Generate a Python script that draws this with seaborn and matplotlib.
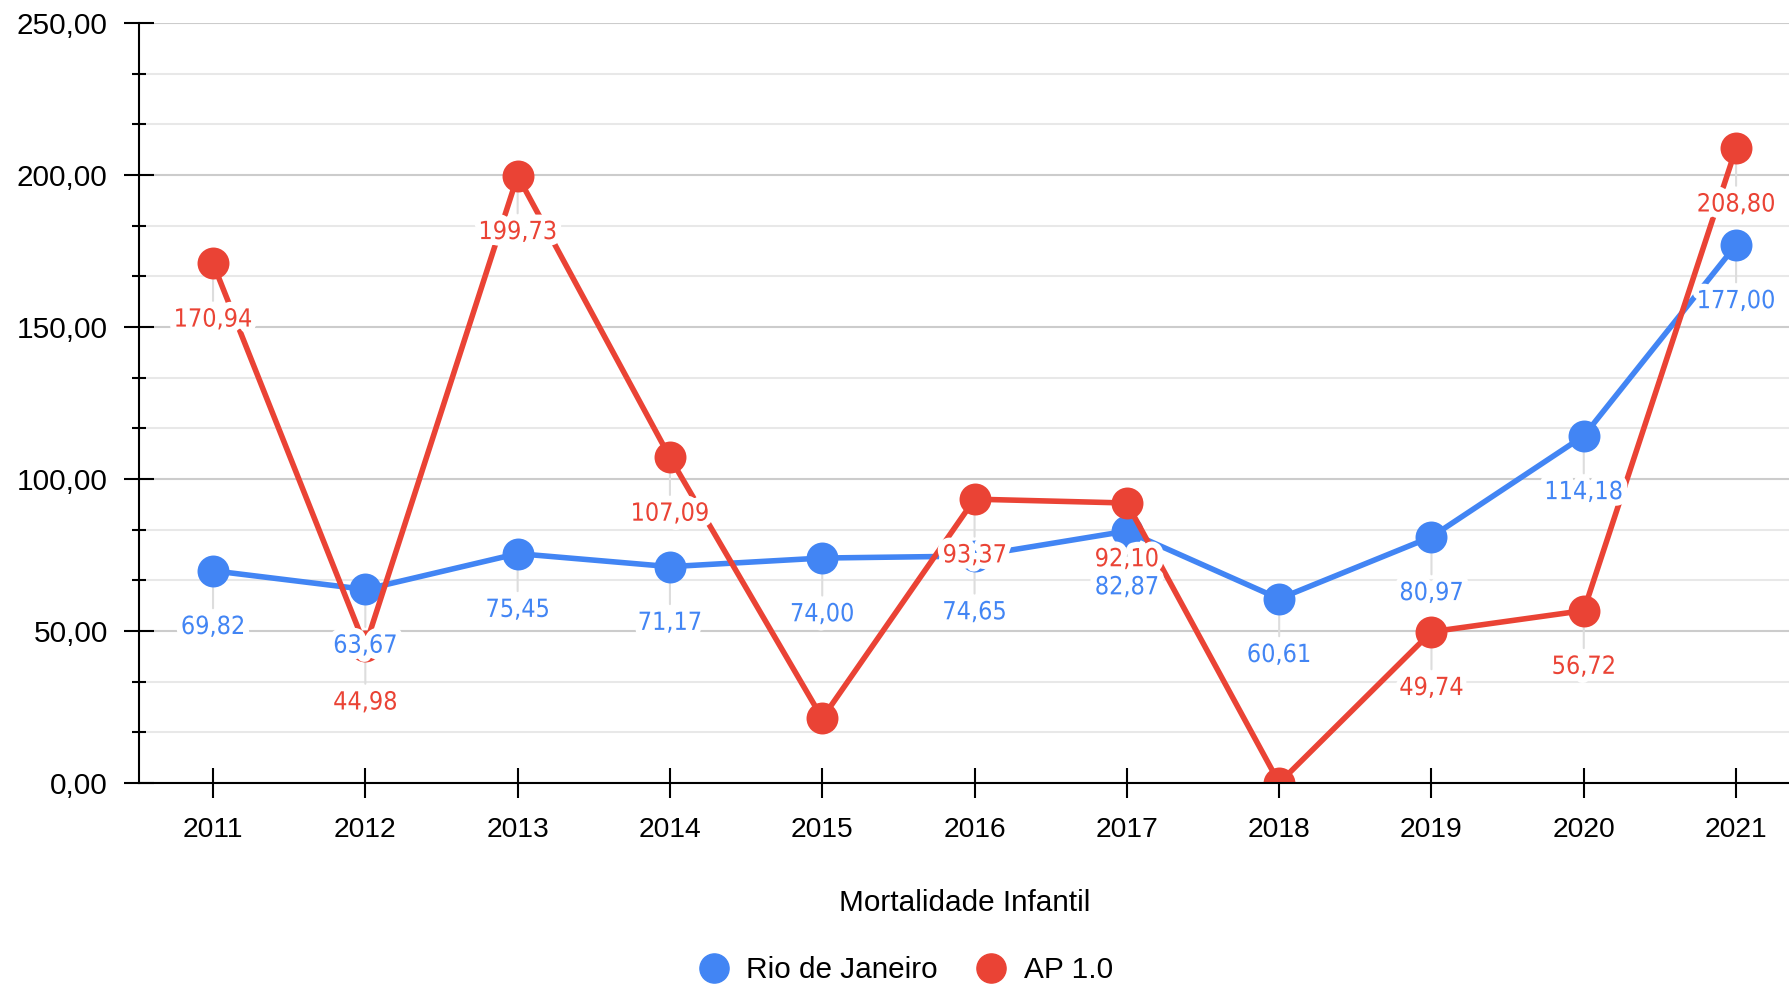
import numpy as np
import pandas as pd
import matplotlib
matplotlib.use("Agg")
import matplotlib.pyplot as plt
import matplotlib.patheffects as pe
from matplotlib.ticker import MultipleLocator, FuncFormatter
from matplotlib.lines import Line2D
import seaborn as sns

years = [2011, 2012, 2013, 2014, 2015, 2016, 2017, 2018, 2019, 2020, 2021]
rio = [69.82, 63.67, 75.45, 71.17, 74.00, 74.65, 82.87, 60.61, 80.97, 114.18, 177.00]
ap10 = [170.94, 44.98, 199.73, 107.09, 21.28, 93.37, 92.10, 0.00, 49.74, 56.72, 208.80]
series_names = ["Rio de Janeiro", "AP 1.0"]
colors = ["#4285F4", "#EA4335"]
x_title = "Mortalidade Infantil"

df = pd.concat([
    pd.DataFrame({"ano": years, "valor": rio, "serie": series_names[0]}),
    pd.DataFrame({"ano": years, "valor": ap10, "serie": series_names[1]}),
], ignore_index=True)

sns.set_style("white")
plt.rcParams["font.family"] = ["Liberation Sans", "DejaVu Sans"]
plt.rcParams["text.color"] = "black"
plt.rcParams["axes.labelcolor"] = "black"
plt.rcParams["xtick.color"] = "black"
plt.rcParams["ytick.color"] = "black"

W, H = 1790, 986
fig = plt.figure(figsize=(W / 100, H / 100), dpi=100)
ax = fig.add_axes([139 / W, 1 - 783 / H, 1 - 139 / W, (783 - 23) / H])

pal = dict(zip(series_names, colors))
sns.lineplot(data=df, x="ano", y="valor", hue="serie", palette=pal,
             hue_order=series_names, marker="o", markersize=23,
             markeredgewidth=0, linewidth=4.0, ax=ax, legend=False, zorder=3)

ax.set_xlim(2010.514, 2021.354)
ax.set_ylim(0, 250)

# grid
ax.yaxis.set_major_locator(MultipleLocator(50))
ax.yaxis.set_minor_locator(MultipleLocator(50 / 3))
ax.set_xticks(years)
ax.set_xticklabels([str(y) for y in years])
ax.grid(False)
ax.set_axisbelow(True)
ax.grid(axis="y", which="major", color="#cccccc", linewidth=1.5, zorder=0)
ax.grid(axis="y", which="minor", color="#e8e8e8", linewidth=1.5, zorder=0)

fmt = FuncFormatter(lambda v, p: f"{v:.2f}".replace(".", ","))
ax.yaxis.set_major_formatter(fmt)

for s in ["top", "right"]:
    ax.spines[s].set_visible(False)
for s in ["left", "bottom"]:
    ax.spines[s].set_color("black")
    ax.spines[s].set_linewidth(1.5)
    ax.spines[s].set_zorder(6)

ax.tick_params(axis="y", which="major", direction="inout", length=21, width=1.5,
               color="black", labelcolor="black", labelsize=21.4, pad=12, left=True)
ax.tick_params(axis="y", which="minor", direction="inout", length=10, width=1.5,
               color="black", left=True)
ax.tick_params(axis="x", which="major", direction="inout", length=21.6, width=1.5,
               color="black", labelcolor="black", labelsize=20.3, pad=14, bottom=True)
ax.set_xlabel(x_title, fontsize=21.4, labelpad=33, color="black")
ax.set_ylabel("")

# annotations (stems + value labels below each point)
for vals, col in zip([rio, ap10], colors):
    for yr, v in zip(years, vals):
        if v < 23.4:
            continue
        ax.annotate("", xy=(yr, v), xytext=(0, -27), textcoords="offset points",
                    arrowprops=dict(arrowstyle="-", color="#dddddd", lw=1.5,
                                    shrinkA=0, shrinkB=0), zorder=1)
for vals, col in zip([rio, ap10], colors):
    for yr, v in zip(years, vals):
        if v < 23.4:
            continue
        ax.annotate(f"{v:.2f}".replace(".", ","), xy=(yr, v), xytext=(0, -40.5),
                    textcoords="offset points", ha="center", va="center",
                    color=col, fontsize=18, family="DejaVu Sans",
                    fontstretch="condensed", zorder=5,
                    path_effects=[pe.withStroke(linewidth=9, foreground="white")])

handles = [Line2D([], [], marker="o", color=c, linestyle="", markersize=21)
           for c in colors]
leg = fig.legend(handles, series_names, loc="center",
                 bbox_to_anchor=(906 / W, 1 - 970 / H),
                 ncol=2, frameon=False, fontsize=21.4, handletextpad=0.6,
                 columnspacing=1.3, handlelength=1.0)
for t in leg.get_texts():
    t.set_color("black")

fig.savefig("out.png", dpi=100)
